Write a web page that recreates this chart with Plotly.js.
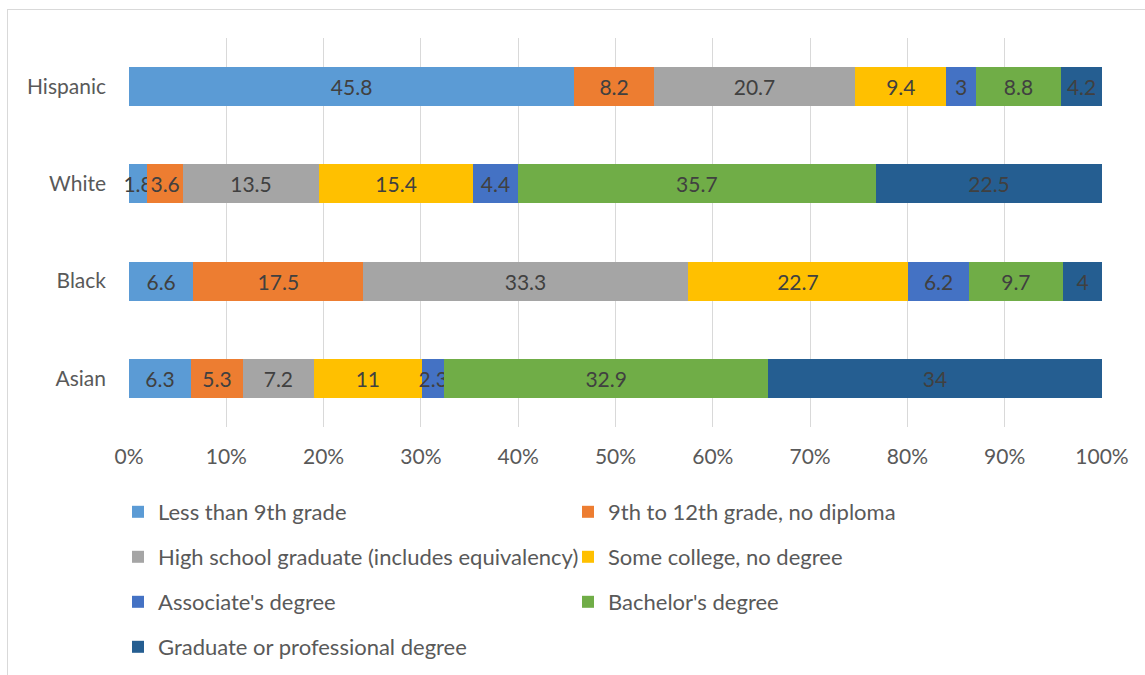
<!DOCTYPE html>
<html>
<head>
<meta charset="utf-8">
<script src="https://cdn.plot.ly/plotly-3.0.1.min.js"></script>
<style>
  html, body { margin: 0; padding: 0; background: #ffffff; overflow: hidden; }
  #frame { position: absolute; left: 7px; top: 9px; width: 1200px; height: 700px;
           border-left: 1px solid #d9d9d9; border-top: 1px solid #d9d9d9; }
  #chart { position: absolute; left: 0; top: 0; width: 1145px; height: 675px; }
</style>
</head>
<body>
<div id="frame"></div>
<div id="chart"></div>
<script>
// Educational attainment by race/ethnicity (shares of each group)
const groups = ['Hispanic', 'White', 'Black', 'Asian'];

const lessThan9th      = [45.8, 1.8, 6.6, 6.3];
const grade9to12       = [8.2, 3.6, 17.5, 5.3];
const highSchoolGrad   = [20.7, 13.5, 33.3, 7.2];
const someCollege      = [9.4, 15.4, 22.7, 11];
const associates       = [3, 4.4, 6.2, 2.3];
const bachelors        = [8.8, 35.7, 9.7, 32.9];
const graduateDegree   = [4.2, 22.5, 4, 34];

const seriesNames = [
  'Less than 9th grade',
  '9th to 12th grade, no diploma',
  'High school graduate (includes equivalency)',
  'Some college, no degree',
  "Associate's degree",
  "Bachelor's degree",
  'Graduate or professional degree'
];
const seriesValues = [lessThan9th, grade9to12, highSchoolGrad, someCollege,
                      associates, bachelors, graduateDegree];
const seriesColors = ['#5B9BD5', '#ED7D31', '#A5A5A5', '#FFC000',
                      '#4472C4', '#70AD47', '#255E91'];

const FONT = 'Lato, "Open Sans", sans-serif';
const FS = 21;
const LEGEND_FS = 22;
const legendIds = ['legend', 'legend2', 'legend3', 'legend4', 'legend5', 'legend6', 'legend7'];

const traces = seriesValues.map((vals, i) => ({
  type: 'bar',
  orientation: 'h',
  name: seriesNames[i],
  y: groups,
  x: vals,
  text: vals.map(v => String(v)),
  texttemplate: '%{text}',
  textposition: 'inside',
  textangle: 0,
  insidetextanchor: 'middle',
  insidetextfont: { family: FONT, size: FS, color: '#404040' },
  constraintext: 'none',
  cliponaxis: false,
  marker: { color: seriesColors[i], line: { width: 0 } },
  legend: legendIds[i],
  hoverinfo: 'name+x'
}));

// Legend grid: two columns, four rows beneath the axis
const plotTop = 38, plotBottom = 427, plotLeft = 129, plotRight = 1102;
const pxToPaperX = px => (px - plotLeft) / (plotRight - plotLeft);
const pxToPaperY = py => (plotBottom - py) / (plotBottom - plotTop);
const colX = [118, 568];
const rowY = [512, 557, 602, 647];

const layout = {
  width: 1145,
  height: 675,
  margin: { l: plotLeft, r: 1145 - plotRight, t: plotTop, b: 675 - plotBottom, pad: 0, autoexpand: false },
  paper_bgcolor: 'rgba(0,0,0,0)',
  plot_bgcolor: 'rgba(0,0,0,0)',
  barmode: 'stack',
  barnorm: 'percent',
  bargap: 0.6,
  uniformtext: { mode: 'show', minsize: FS },
  font: { family: FONT, size: FS, color: '#595959' },
  xaxis: {
    range: [0, 100],
    dtick: 10,
    ticksuffix: '%',
    showgrid: true,
    gridcolor: '#d9d9d9',
    gridwidth: 1,
    zeroline: false,
    showline: false,
    ticks: '',
    ticklabelstandoff: 15,
    tickfont: { family: FONT, size: FS, color: '#595959' },
    automargin: false,
    fixedrange: true
  },
  yaxis: {
    type: 'category',
    categoryorder: 'array',
    categoryarray: groups,
    autorange: 'reversed',
    showgrid: false,
    zeroline: false,
    showline: false,
    ticks: '',
    ticklabelstandoff: 22,
    tickfont: { family: FONT, size: FS, color: '#595959' },
    automargin: false,
    fixedrange: true
  },
  showlegend: true
};

legendIds.forEach((id, i) => {
  layout[id] = {
    orientation: 'h',
    x: pxToPaperX(colX[i % 2]),
    xanchor: 'left',
    y: pxToPaperY(rowY[Math.floor(i / 2)]),
    yanchor: 'middle',
    bgcolor: 'rgba(0,0,0,0)',
    font: { family: FONT, size: LEGEND_FS, color: '#595959' },
    itemclick: false,
    itemdoubleclick: false
  };
});

Plotly.newPlot('chart', traces, layout, { displayModeBar: false, staticPlot: true });
</script>
</body>
</html>
